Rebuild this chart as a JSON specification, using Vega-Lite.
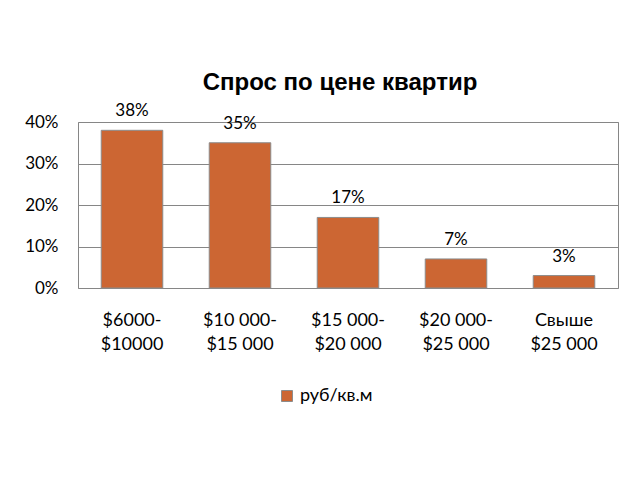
{
  "$schema": "https://vega.github.io/schema/vega-lite/v6.json",
  "width": 540,
  "height": 166,
  "autosize": {"type": "none"},
  "padding": {"left": 78, "top": 122, "right": 22, "bottom": 192},
  "background": "white",
  "title": {
    "text": "Спрос по цене квартир",
    "font": "Liberation Sans",
    "fontSize": 24,
    "fontWeight": "bold",
    "color": "#000000",
    "offset": 7,
    "dx": -8
  },
  "data": {
    "values": [
      {"range": "$6000-|$10000", "share": 0.38, "series": "руб/кв.м"},
      {"range": "$10 000-|$15 000", "share": 0.35, "series": "руб/кв.м"},
      {"range": "$15 000-|$20 000", "share": 0.17, "series": "руб/кв.м"},
      {"range": "$20 000-|$25 000", "share": 0.07, "series": "руб/кв.м"},
      {"range": "Свыше|$25 000", "share": 0.03, "series": "руб/кв.м"}
    ]
  },
  "encoding": {
    "x": {
      "field": "range",
      "type": "nominal",
      "sort": null,
      "scale": {"paddingInner": 0.43, "paddingOuter": 0.215},
      "axis": {
        "title": null,
        "labelAngle": 0,
        "labelExpr": "split(datum.label, '|')",
        "labelFont": "Lato",
        "labelFontSize": 18,
        "labelColor": "#000000",
        "labelLineHeight": 24,
        "labelBaseline": "top",
        "labelPadding": 23,
        "ticks": false,
        "domain": false
      }
    },
    "y": {
      "field": "share",
      "type": "quantitative",
      "scale": {"domain": [0, 0.4]},
      "axis": {
        "title": null,
        "values": [0, 0.1, 0.2, 0.3, 0.4],
        "format": ".0%",
        "labelFont": "Lato",
        "labelFontSize": 17,
        "labelColor": "#000000",
        "labelPadding": 20,
        "ticks": false,
        "domain": false,
        "grid": true,
        "gridColor": "#868686",
        "gridWidth": 1
      }
    }
  },
  "layer": [
    {
      "mark": {"type": "bar", "stroke": "#8c8c8c", "strokeWidth": 1},
      "encoding": {
        "color": {
          "field": "series",
          "type": "nominal",
          "scale": {"range": ["#CC6633"]},
          "legend": {
            "title": null,
            "orient": "none",
            "legendX": 200,
            "legendY": 265,
            "symbolType": "square",
            "symbolSize": 121,
            "symbolStrokeColor": "#8c8c8c",
            "symbolStrokeWidth": 1,
            "labelFont": "Lato",
            "labelFontSize": 18,
            "labelColor": "#000000",
            "labelOffset": 4
          }
        }
      }
    },
    {
      "mark": {
        "type": "text",
        "baseline": "bottom",
        "dy": -10,
        "font": "Lato",
        "fontSize": 17,
        "color": "#000000"
      },
      "encoding": {
        "text": {"field": "share", "type": "quantitative", "format": ".0%"}
      }
    }
  ],
  "config": {
    "view": {"stroke": "#868686", "strokeWidth": 1}
  }
}
